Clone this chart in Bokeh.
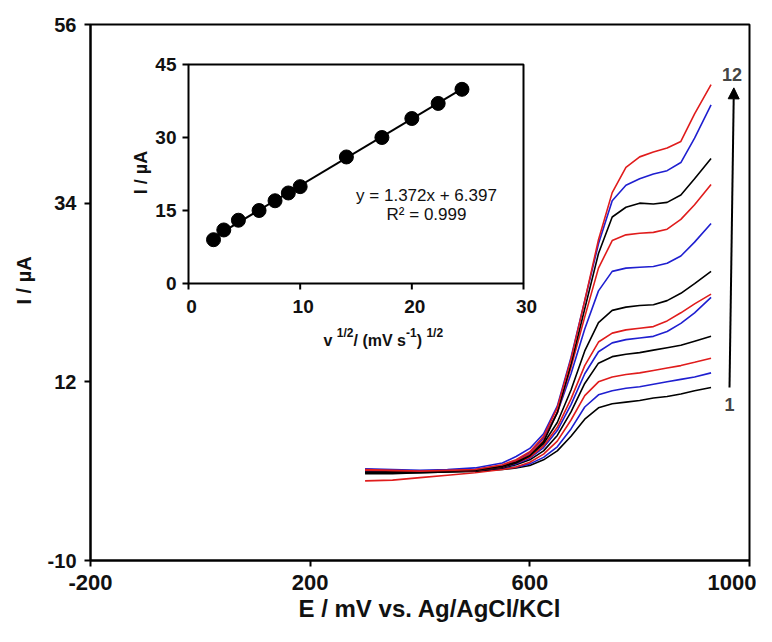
import math
from bokeh.plotting import figure
from bokeh.models import Range1d, FixedTicker, Arrow, NormalHead, Label, Title
from bokeh.core.properties import value
from bokeh.embed import file_html
from bokeh.resources import INLINE

# ---------------- data ----------------
E_mV = [300, 350, 400, 450, 500, 550, 575, 600, 625, 650, 675, 700, 725, 750, 775, 800, 825, 850, 875, 900, 930]
curve_01 = [0.7, 0.7, 0.8, 0.9, 1.0, 1.2, 1.4, 1.7, 2.4, 3.5, 5.3, 7.4, 8.8, 9.3, 9.5, 9.7, 10.0, 10.2, 10.5, 10.9, 11.3]
curve_02 = [1.2, 1.1, 1.0, 1.0, 1.1, 1.3, 1.5, 1.9, 2.7, 4.0, 6.2, 8.9, 10.4, 10.9, 11.2, 11.4, 11.7, 12.0, 12.3, 12.6, 13.1]
curve_03 = [-0.2, -0.1, 0.2, 0.5, 0.8, 1.2, 1.5, 2.1, 3.1, 4.7, 7.3, 10.3, 12.0, 12.6, 12.9, 13.1, 13.4, 13.7, 14.0, 14.4, 14.9]
curve_04 = [0.8, 0.8, 0.8, 0.9, 1.0, 1.4, 1.8, 2.4, 3.5, 5.4, 8.3, 11.8, 14.3, 15.1, 15.4, 15.6, 15.9, 16.2, 16.5, 17.0, 17.6]
curve_05 = [1.1, 1.0, 1.0, 1.0, 1.1, 1.5, 1.9, 2.6, 3.9, 6.0, 9.2, 13.0, 15.7, 16.8, 17.2, 17.4, 17.6, 18.2, 19.2, 20.5, 22.4]
curve_06 = [1.0, 1.0, 1.0, 1.0, 1.1, 1.5, 2.0, 2.7, 4.1, 6.4, 9.9, 14.0, 16.9, 18.0, 18.4, 18.6, 18.8, 19.5, 20.5, 21.6, 22.8]
curve_07 = [0.9, 0.9, 0.9, 1.0, 1.1, 1.5, 2.0, 2.9, 4.4, 7.0, 11.0, 15.8, 19.3, 20.8, 21.2, 21.4, 21.5, 22.0, 22.9, 24.1, 25.6]
curve_08 = [1.0, 1.0, 1.0, 1.1, 1.2, 1.7, 2.3, 3.3, 5.1, 8.2, 13.0, 18.5, 23.2, 25.6, 26.0, 26.1, 26.2, 26.6, 27.5, 29.2, 31.5]
curve_09 = [1.1, 1.0, 1.0, 1.0, 1.1, 1.6, 2.2, 3.1, 4.8, 8.2, 13.8, 20.0, 26.0, 29.4, 30.1, 30.3, 30.4, 30.8, 32.0, 33.8, 36.3]
curve_10 = [0.9, 0.9, 0.9, 1.0, 1.1, 1.6, 2.1, 2.9, 4.6, 8.2, 14.2, 21.0, 27.8, 32.3, 33.5, 34.0, 33.9, 34.1, 35.0, 37.0, 39.5]
curve_11 = [1.3, 1.2, 1.1, 1.2, 1.4, 2.0, 2.8, 3.8, 5.6, 9.0, 15.0, 22.0, 29.0, 34.3, 36.2, 37.0, 37.6, 38.0, 39.0, 42.0, 46.1]
curve_12 = [1.2, 1.1, 1.0, 1.1, 1.2, 1.8, 2.4, 3.4, 5.3, 8.8, 14.8, 22.0, 29.5, 35.3, 38.4, 39.7, 40.3, 40.8, 41.6, 45.0, 48.6]
curves = [curve_01, curve_02, curve_03, curve_04, curve_05, curve_06,
          curve_07, curve_08, curve_09, curve_10, curve_11, curve_12]
curve_colors = ["#000000", "#1f1fd0", "#e01c1c"] * 4

sqrt_scan = [2.24, 3.16, 4.47, 6.32, 7.75, 8.94, 10.0, 14.14, 17.32, 20.0, 22.36, 24.49]
peak_I = [9.0, 11.0, 13.0, 15.0, 17.0, 18.6, 19.9, 26.0, 30.0, 33.9, 37.0, 39.9]
fit_slope = 1.372
fit_intercept = 6.397
fit_r2 = 0.999

x_ticks = [-200, 200, 600, 1000]
y_ticks = [-10, 12, 34, 56]
inset_x_ticks = [0, 10, 20, 30]
inset_y_ticks = [0, 15, 30, 45]

# ---------------- layout constants (pixels) ----------------
W, H = 756, 626
FL, FR, FT, FB = 90, 749, 24, 560          # main frame in canvas px
IL, IR, IT, IB = 188, 523, 64, 283          # inset frame in canvas px
FONT = "Liberation Sans"

ixs = (inset_x_ticks[-1] - inset_x_ticks[0]) / (IR - IL)   # inset units per px
iys = (inset_y_ticks[-1] - inset_y_ticks[0]) / (IB - IT)
ix_range = Range1d(inset_x_ticks[0] - (IL - FL) * ixs, inset_x_ticks[-1] + (FR - IR) * ixs)
iy_range = Range1d(inset_y_ticks[0] - (FB - IB) * iys, inset_y_ticks[-1] + (IT - FT) * iys)

p = figure(width=W, height=H, output_backend="svg", toolbar_location=None,
           x_range=Range1d(x_ticks[0], x_ticks[-1]), y_range=Range1d(y_ticks[0], y_ticks[-1]),
           min_border_left=FL, min_border_right=W - FR, min_border_top=FT, min_border_bottom=H - FB)
p.extra_x_ranges = {"ix": ix_range}
p.extra_y_ranges = {"iy": iy_range}
p.grid.visible = False
p.background_fill_color = "white"
p.border_fill_color = "white"
p.outline_line_color = "black"
p.outline_line_width = 2
p.outline_line_alpha = 1

for ax, ticks in ((p.xaxis[0], x_ticks), (p.yaxis[0], y_ticks)):
    ax.ticker = FixedTicker(ticks=ticks)
    ax.major_label_overrides = {t: str(t) for t in ticks}
    ax.axis_line_width = 2
    ax.major_tick_line_width = 2
    ax.major_tick_in = 0
    ax.major_tick_out = 6
    ax.minor_tick_line_color = None
    ax.major_label_text_font = FONT
    ax.major_label_text_font_style = "bold"
    ax.major_label_text_color = "#111111"

p.xaxis[0].major_label_text_font_size = "22px"
p.xaxis[0].major_label_standoff = 8
p.yaxis[0].major_label_text_font_size = "20px"
p.yaxis[0].major_label_standoff = 8

# axis titles as side titles, shifted along the axis by an offset from the frame edge
p.add_layout(Title(text="E / mV  vs. Ag/AgCl/KCl", align="left", offset=208, standoff=0,
                   text_font=FONT, text_font_style="bold", text_font_size="24px",
                   text_color="#111111"), "below")
p.add_layout(Title(text="I / µA", align="left", offset=256, standoff=19,
                   text_font=FONT, text_font_style="bold", text_font_size="20px",
                   text_color="#111111"), "left")

# ---------------- main curves ----------------
for ys_, col in zip(curves, curve_colors):
    p.line(E_mV, ys_, line_color=col, line_width=1.6)

p.add_layout(Arrow(end=NormalHead(size=11, fill_color="black", line_color="black"),
                   x_start=963.6, y_start=11.3, x_end=971.5, y_end=48.2,
                   line_color="black", line_width=2))
p.add_layout(Label(x=968, y=49.8, text="12", text_font=FONT, text_font_style="bold",
                   text_font_size="18px", text_align="center", text_baseline="middle"))
p.add_layout(Label(x=963.6, y=9.25, text="1", text_font=FONT, text_font_style="bold",
                   text_font_size="18px", text_align="center", text_baseline="middle"))

# ---------------- inset ----------------
kw = dict(x_range_name="ix", y_range_name="iy")
p.quad(left=inset_x_ticks[0], right=inset_x_ticks[-1], bottom=inset_y_ticks[0], top=inset_y_ticks[-1],
       fill_color="white", line_color="black", line_width=2, **kw)
tick_len = 6
p.segment(x0=inset_x_ticks, x1=inset_x_ticks, y0=[inset_y_ticks[0]] * 4,
          y1=[inset_y_ticks[0] - tick_len * iys] * 4, line_color="black", line_width=2, **kw)
p.segment(x0=[inset_x_ticks[0]] * 4, x1=[inset_x_ticks[0] - tick_len * ixs] * 4,
          y0=inset_y_ticks, y1=inset_y_ticks, line_color="black", line_width=2, **kw)

p.text(x=[inset_x_ticks[0] - 12 * ixs] * 4, y=inset_y_ticks, text=[str(t) for t in inset_y_ticks],
       text_font=value(FONT), text_font_style="bold", text_font_size=value("19px"),
       text_align="right", text_baseline="middle", text_color="#111111", **kw)
p.text(x=[t + 3 * ixs for t in inset_x_ticks], y=[inset_y_ticks[0] - 22.5 * iys] * 4,
       text=[str(t) for t in inset_x_ticks],
       text_font=value(FONT), text_font_style="bold", text_font_size=value("19px"),
       text_align="center", text_baseline="middle", text_color="#111111", **kw)
p.text(x=[inset_x_ticks[0] - 48 * ixs], y=[inset_y_ticks[0] + 111 * iys], text=["I / µA"], angle=math.pi / 2,
       text_font=value(FONT), text_font_style="bold", text_font_size=value("18px"),
       text_align="center", text_baseline="middle", text_color="#111111", **kw)

# inset x-axis title with superscripts
em = {"v": .556, " ": .278, "1": .556, "/": .278, "2": .556, "(": .333, "m": .889,
      "V": .667, "s": .556, "-": .333, ")": .333}
pieces = [("v ", 16, 0), ("1/2", 12, 8), ("/ (mV s", 16, 0), ("-1", 12, 8), (") ", 16, 0), ("1/2", 12, 8)]
cx = IL + 135
base = IB + 57
for txt, sz, up in pieces:
    p.text(x=[inset_x_ticks[0] + (cx - IL) * ixs], y=[inset_y_ticks[0] - (base - up - IB) * iys], text=[txt],
           text_font=value(FONT), text_font_style="bold", text_font_size=value(f"{sz}px"),
           text_align="left", text_baseline="alphabetic", text_color="#111111", **kw)
    cx += sum(em[c] for c in txt) * sz

# fit line and points
fx = [min(sqrt_scan), max(sqrt_scan)]
p.line(fx, [fit_slope * v + fit_intercept for v in fx], line_color="black", line_width=2, **kw)
p.scatter(sqrt_scan, peak_I, size=14, fill_color="black", line_color="black", **kw)

eq_x = inset_x_ticks[0] + 238 * ixs
p.text(x=[eq_x, eq_x], y=[inset_y_ticks[0] + 88 * iys, inset_y_ticks[0] + 69 * iys],
       text=[f"y = {fit_slope}x + {fit_intercept}", f"R² = {fit_r2}"],
       text_font=value(FONT), text_font_size=value("17px"), text_align="center",
       text_baseline="middle", text_color="#111111", **kw)

open("out.html", "w").write(file_html(p, INLINE))
